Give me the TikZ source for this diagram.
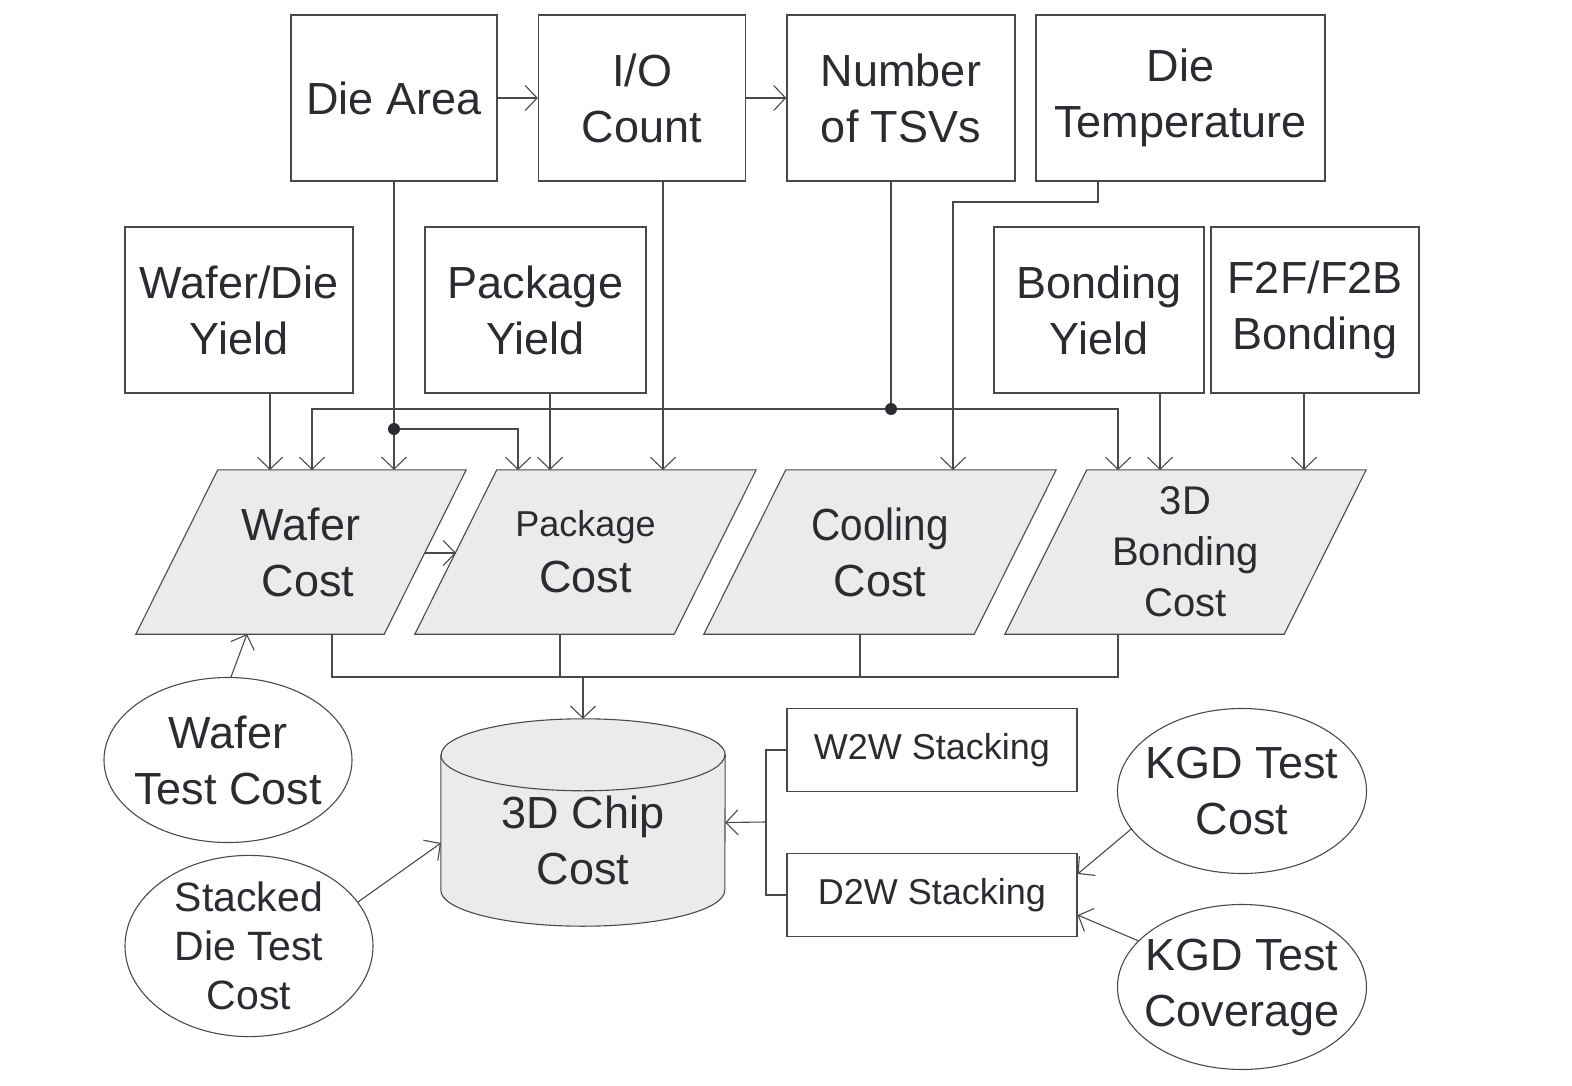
\documentclass[tikz,border=0pt]{standalone}
\usepackage{fontspec}
\setmainfont{Liberation Sans}
\usetikzlibrary{arrows.meta,shapes.geometric,calc}
\pgfdeclarelayer{background}
\pgfsetlayers{background,main}
\definecolor{lc}{HTML}{4A4A4A}
\definecolor{tc}{HTML}{2A2C31}
\definecolor{fc}{HTML}{EBEBEB}
\newcommand{\fA}{\fontsize{45}{56}\selectfont}
\newcommand{\fB}{\fontsize{36}{45}\selectfont}
\newcommand{\fC}{\fontsize{40}{51}\selectfont}
\newcommand{\fD}{\fontsize{41}{49}\selectfont}
\newcommand{\zb}[1]{\makebox[0pt]{#1}}
\newcommand{\parashape}[1]{\path[draw=lc, fill=fc, line width=1.1pt] ($(#1.north west)+(82,0)$) -- (#1.north east) -- ($(#1.south east)+(-82,0)$) -- (#1.south west) -- cycle;}
\begin{document}
\begin{tikzpicture}[x=1pt,y=-1pt,
 box/.style={draw=lc, line width=1.2pt, inner sep=0pt, align=center, text=tc, font=\fA, minimum height=166pt},
 sbox/.style={box, font=\fB, minimum height=83pt, minimum width=290pt},
 oval/.style={ellipse, draw=lc, line width=1.1pt, inner sep=0pt, align=center, text=tc, font=\fA, minimum width=248pt, minimum height=165pt},
 pbox/.style={inner sep=0pt, align=center, text=tc, font=\fA, minimum height=164pt},
 arr/.style={draw=lc, line width=1.1pt, -{Straight Barb[length=12pt,width=25pt]}},
 ln/.style={draw=lc, line width=1.1pt},
 jdot/.style={circle, fill=tc, inner sep=0pt, minimum size=12pt},
]
\useasboundingbox (0,0) rectangle (1572,1086);

% top row
\node[box, minimum width=206pt] (da) at (394,98) {Die Area};
\node[box, minimum width=207pt] (io) at (642,98) {I/O\\Count};
\node[box, minimum width=228pt] (nt) at (901,98) {Number\\of TSVs};
\node[box, minimum width=289pt] (dt) at (1180.5,98) {Die\\Temperature};

% second row
\node[box, minimum width=228pt] (wdy) at (239,310) {Wafer/Die\\Yield};
\node[box, minimum width=221pt] (py) at (535.5,310) {Package\\Yield};
\node[box, minimum width=210pt] (by) at (1099,310) {Bonding\\Yield};
\node[box, minimum width=208pt] (ff) at (1315,310) {F2F/F2B\\Bonding};

% parallelograms
\node[pbox, minimum width=330pt] (wc) at (301,552) {\zb{Wafer}\\\zb{\hspace*{14pt}Cost}};
\node[pbox, minimum width=341pt] (pc) at (585.5,552) {{\fB Package}\\Cost};
\node[pbox, minimum width=352pt] (cc) at (880,552) {\scalebox{0.9}[1]{Cooling}\\Cost};
\node[pbox, font=\fC, minimum width=361pt] (bc) at (1185.5,552) {3D\\Bonding\\Cost};
\begin{pgfonlayer}{background}
\parashape{wc}
\parashape{pc}
\parashape{cc}
\parashape{bc}
\end{pgfonlayer}

% chip cylinder
\node[inner sep=0pt, minimum width=284pt, minimum height=207pt] (chip) at (583,822.5) {};
\node[inner sep=0pt, align=center, text=tc, font=\fA] (chipt) at (583,840) {3D Chip\\Cost};
\begin{pgfonlayer}{background}
\path[draw=lc, fill=fc, line width=1.1pt] ($(chip.north west)+(0,36)$) -- ($(chip.south west)+(0,-36)$)
  arc[start angle=180, end angle=0, x radius=142, y radius=36] -- ($(chip.north east)+(0,36)$)
  arc[start angle=0, end angle=-180, x radius=142, y radius=36] -- cycle;
\path[draw=lc, line width=1.1pt] ($(chip.north west)+(0,36)$) arc[start angle=180, end angle=0, x radius=142, y radius=36];
\end{pgfonlayer}

% stacking boxes
\node[sbox] (w2w) at (932,750) {W2W Stacking};
\node[sbox] (d2w) at (932,895) {D2W Stacking};

% ellipses
\node[oval] (wtc) at (228,760) {\zb{Wafer}\\\zb{Test Cost}};
\node[oval, font=\fD] (sdt) at (249,946) {\zb{Stacked}\\\zb{Die Test}\\\zb{Cost}};
\node[oval, minimum width=249pt] (kc) at (1242,791) {\zb{KGD Test}\\\zb{Cost}};
\node[oval, minimum width=249pt] (kv) at (1242,987) {\zb{KGD Test}\\\zb{Coverage}};

% coordinates
\coordinate (j1) at (394,429);
\coordinate (j2) at (891,409);
\coordinate (dtk) at (1098,202);
\coordinate (wc1) at (270,470);
\coordinate (wc2) at (312,470);
\coordinate (pc1) at (518,470);
\coordinate (pc2) at (550,470);
\coordinate (pc3) at (663,470);
\coordinate (cc1) at (953,470);
\coordinate (bc1) at (1118,470);
\coordinate (bc2) at (1160,470);
\coordinate (bc3) at (1304,470);
\coordinate (wp1) at (425,553);
\coordinate (wp2) at (456,553);
\coordinate (wcin) at (247,634);
\coordinate (sdin) at (441,843);
\coordinate (cw) at (332,677);
\coordinate (cp) at (560,677);
\coordinate (cco) at (860,677);
\coordinate (cb) at (1118,677);
\coordinate (cm) at (583,677);
\coordinate (br) at (766,822);

% top arrows
\draw[arr] (da.east) -- (io.west);
\draw[arr] (io.east) -- (nt.west);

% down connections
\draw[arr] (da.south) -- (da.south |- wc.north);
\draw[arr] (j1) -| (pc1);
\draw[arr] (io.south -| pc3) -- (pc3);
\draw[ln] (nt.south -| j2) -- (j2);
\draw[arr] (j2) -| (wc2);
\draw[arr] (j2) -| (bc1);
\draw[arr] (dt.south -| dtk) -- (dtk) -| (cc1);
\draw[arr] (wdy.south -| wc1) -- (wc1);
\draw[arr] (py.south -| pc2) -- (pc2);
\draw[arr] (by.south -| bc2) -- (bc2);
\draw[arr] (ff.south -| bc3) -- (bc3);
\node[jdot] at (j1) {};
\node[jdot] at (j2) {};

% between parallelograms
\draw[arr] (wp1) -- (wp2);

% collection to chip
\draw[ln] (wc.south -| cw) -- (cw) -- (cb) -- (bc.south -| cb);
\draw[ln] (pc.south -| cp) -- (cp);
\draw[ln] (cc.south -| cco) -- (cco);
\draw[arr] (cm) -- (chip.north);

% ellipse arrows
\draw[arr] ($(wtc.north)+(3,0)$) -- (wcin);
\draw[arr] (sdt.22) -- (sdin);
\draw[arr] (kc.199) -- ($(d2w.east)+(0,-21)$);
\draw[arr] (kv.156) -- ($(d2w.east)+(0,20)$);

% stacking bracket
\draw[ln] (w2w.west) -| (br) |- (d2w.west);
\draw[arr] (br) -- (chip.east);
\end{tikzpicture}
\end{document}
